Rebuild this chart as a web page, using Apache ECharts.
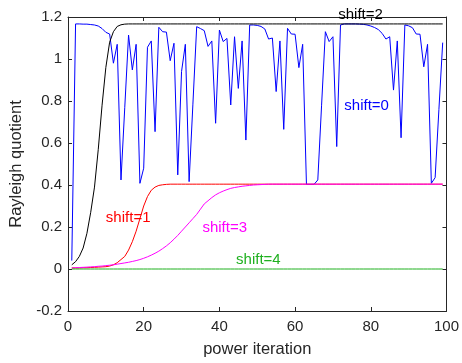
<!DOCTYPE html>
<html>
<head>
<meta charset="utf-8">
<script src="https://cdn.jsdelivr.net/npm/echarts@6/dist/echarts.min.js"></script>
<style>
  html, body { margin: 0; padding: 0; background: #fff; }
  #chart { width: 462px; height: 363px; }
</style>
</head>
<body>
<div id="chart"></div>
<script>
// iteration values (x = 1..99)
const shift0 = [
  0.04, 1.167, 1.167, 1.166, 1.166, 1.164, 1.162, 1.157, 1.145, 1.127,
  1.119, 0.98, 1.07, 0.424, 0.77, 1.114, 0.948, 1.07, 0.408, 0.48,
  1.056, 1.086, 0.654, 1.151, 1.13, 1.128, 0.992, 1.075, 0.448, 0.94,
  1.07, 0.416, 0.785, 1.154, 1.145, 1.135, 1.06, 1.086, 0.694, 1.138,
  1.083, 1.098, 0.781, 1.106, 0.86, 1.086, 0.614, 1.162, 1.162, 1.16,
  1.155, 1.143, 1.095, 1.1, 0.845, 1.086, 0.665, 1.146, 1.119, 1.118,
  0.959, 1.07, 0.403, 0.403, 0.403, 0.424, 0.78, 1.13, 1.083, 1.106,
  0.583, 1.162, 1.167, 1.167, 1.167, 1.167, 1.166, 1.165, 1.162, 1.157,
  1.15, 1.14, 1.122, 1.095, 1.106, 0.852, 1.086, 0.625, 1.162, 1.158,
  1.149, 1.119, 1.118, 0.963, 1.07, 0.408, 0.435, 0.76, 1.078
];
const shift1 = [
  0.005, 0.005, 0.005, 0.006, 0.006, 0.007, 0.008, 0.009, 0.01, 0.011,
  0.014, 0.02, 0.03, 0.045, 0.06, 0.09, 0.13, 0.18, 0.24, 0.3,
  0.345, 0.375, 0.39, 0.398, 0.401, 0.403, 0.404, 0.404, 0.404, 0.404,
  0.404, 0.404, 0.404, 0.404, 0.404, 0.404, 0.404, 0.404, 0.404, 0.404,
  0.404, 0.404, 0.404, 0.404, 0.404, 0.404, 0.404, 0.404, 0.404, 0.404,
  0.404, 0.404, 0.404, 0.404, 0.404, 0.404, 0.404, 0.404, 0.404, 0.404,
  0.404, 0.404, 0.404, 0.404, 0.404, 0.404, 0.404, 0.404, 0.404, 0.404,
  0.404, 0.404, 0.404, 0.404, 0.404, 0.404, 0.404, 0.404, 0.404, 0.404,
  0.404, 0.404, 0.404, 0.404, 0.404, 0.404, 0.404, 0.404, 0.404, 0.404,
  0.404, 0.404, 0.404, 0.404, 0.404, 0.404, 0.404, 0.404, 0.404
];
const shift2 = [
  0.02, 0.035, 0.06, 0.1, 0.17, 0.27, 0.39, 0.57, 0.78, 0.96,
  1.08, 1.13, 1.155, 1.163, 1.166, 1.167, 1.167, 1.167, 1.167, 1.167,
  1.167, 1.167, 1.167, 1.167, 1.167, 1.167, 1.167, 1.167, 1.167, 1.167,
  1.167, 1.167, 1.167, 1.167, 1.167, 1.167, 1.167, 1.167, 1.167, 1.167,
  1.167, 1.167, 1.167, 1.167, 1.167, 1.167, 1.167, 1.167, 1.167, 1.167,
  1.167, 1.167, 1.167, 1.167, 1.167, 1.167, 1.167, 1.167, 1.167, 1.167,
  1.167, 1.167, 1.167, 1.167, 1.167, 1.167, 1.167, 1.167, 1.167, 1.167,
  1.167, 1.167, 1.167, 1.167, 1.167, 1.167, 1.167, 1.167, 1.167, 1.167,
  1.167, 1.167, 1.167, 1.167, 1.167, 1.167, 1.167, 1.167, 1.167, 1.167,
  1.167, 1.167, 1.167, 1.167, 1.167, 1.167, 1.167, 1.167, 1.167
];
const shift3 = [
  0.005, 0.006, 0.007, 0.008, 0.009, 0.01, 0.011, 0.013, 0.014, 0.016,
  0.018, 0.02, 0.023, 0.026, 0.029, 0.032, 0.036, 0.04, 0.045, 0.051,
  0.058, 0.066, 0.075, 0.085, 0.097, 0.11, 0.125, 0.142, 0.16, 0.18,
  0.2, 0.22, 0.24, 0.26, 0.285, 0.31, 0.325, 0.34, 0.353, 0.363,
  0.371, 0.378, 0.384, 0.388, 0.391, 0.394, 0.396, 0.398, 0.4, 0.401,
  0.402, 0.403, 0.404, 0.404, 0.404, 0.404, 0.404, 0.404, 0.404, 0.404,
  0.404, 0.404, 0.404, 0.404, 0.404, 0.404, 0.404, 0.404, 0.404, 0.404,
  0.404, 0.404, 0.404, 0.404, 0.404, 0.404, 0.404, 0.404, 0.404, 0.404,
  0.404, 0.404, 0.404, 0.404, 0.404, 0.404, 0.404, 0.404, 0.404, 0.404,
  0.404, 0.404, 0.404, 0.404, 0.404, 0.404, 0.404, 0.404, 0.404
];
const shift4 = [
  0, 0, 0, 0, 0, 0, 0, 0, 0, 0,
  0, 0, 0, 0, 0, 0, 0, 0, 0, 0,
  0, 0, 0, 0, 0, 0, 0, 0, 0, 0,
  0, 0, 0, 0, 0, 0, 0, 0, 0, 0,
  0, 0, 0, 0, 0, 0, 0, 0, 0, 0,
  0, 0, 0, 0, 0, 0, 0, 0, 0, 0,
  0, 0, 0, 0, 0, 0, 0, 0, 0, 0,
  0, 0, 0, 0, 0, 0, 0, 0, 0, 0,
  0, 0, 0, 0, 0, 0, 0, 0, 0, 0,
  0, 0, 0, 0, 0, 0, 0, 0, 0
];

const seriesNames = ['shift=0', 'shift=1', 'shift=2', 'shift=3', 'shift=4'];
const seriesData = [shift0, shift1, shift2, shift3, shift4];
const COLORS = ['#0000ff', '#ff0000', '#000000', '#ff00ff', '#1fb01f'];
// text label anchors, in data coordinates [iteration, value]
const labelAt = [[78.9, 0.775], [15.9, 0.245], [77.3, 1.212], [41.4, 0.194], [50.3, 0.042]];

const FONT = 'Liberation Sans, Arial, Helvetica, sans-serif';
const AXIS_COLOR = '#262626';

const chart = echarts.init(document.getElementById('chart'), null, { renderer: 'canvas' });

const baseX = {
  type: 'value', min: 0, max: 100, interval: 20,
  axisLine: { show: true, onZero: false, lineStyle: { color: AXIS_COLOR, width: 1 } },
  axisTick: { show: true, inside: true, length: 4, lineStyle: { color: AXIS_COLOR } },
  splitLine: { show: false }
};
const baseY = {
  type: 'value', min: -0.2, max: 1.2, interval: 0.2,
  axisLine: { show: true, onZero: false, lineStyle: { color: AXIS_COLOR, width: 1 } },
  axisTick: { show: true, inside: true, length: 4, lineStyle: { color: AXIS_COLOR } },
  splitLine: { show: false }
};

const options = {
  backgroundColor: '#fff',
  animation: false,
  textStyle: { fontFamily: FONT },
  grid: { left: 68, right: 12, top: 17, bottom: 51, containLabel: false },
  xAxis: [
    Object.assign({}, baseX, {
      position: 'bottom',
      name: 'power iteration', nameLocation: 'middle', nameGap: 30,
      nameTextStyle: { color: AXIS_COLOR, fontSize: 16.5, fontFamily: FONT },
      axisLabel: { color: AXIS_COLOR, fontSize: 15, margin: 8, fontFamily: FONT }
    }),
    Object.assign({}, baseX, { position: 'top', axisLabel: { show: false } })
  ],
  yAxis: [
    Object.assign({}, baseY, {
      position: 'left',
      name: 'Rayleigh quotient', nameLocation: 'middle', nameGap: 35,
      nameTextStyle: { color: AXIS_COLOR, fontSize: 16.5, fontFamily: FONT },
      axisLabel: {
        color: AXIS_COLOR, fontSize: 15, margin: 6, fontFamily: FONT,
        formatter: v => String(+v.toFixed(1))
      }
    }),
    Object.assign({}, baseY, { position: 'right', axisLabel: { show: false } })
  ],
  series: seriesData.map((vals, k) => ({
    name: seriesNames[k],
    type: 'line',
    xAxisIndex: 0,
    yAxisIndex: 0,
    showSymbol: false,
    symbol: 'none',
    clip: false,
    lineStyle: { color: COLORS[k], width: 1 },
    itemStyle: { color: COLORS[k] },
    data: vals.map((v, i) => [i + 1, v])
  }))
};

options && chart.setOption(options);

// curve labels placed through the axes' scales (one sits above the plot box)
const labelText = labelAt.map((c, k) => {
  const p = chart.convertToPixel({ gridIndex: 0 }, c);
  return {
    type: 'text', x: p[0], y: p[1], silent: true, z: 100,
    style: {
      text: seriesNames[k], fill: COLORS[k], font: '15px ' + FONT,
      align: 'center', verticalAlign: 'middle'
    }
  };
});
chart.setOption({ graphic: labelText });
</script>
</body>
</html>
